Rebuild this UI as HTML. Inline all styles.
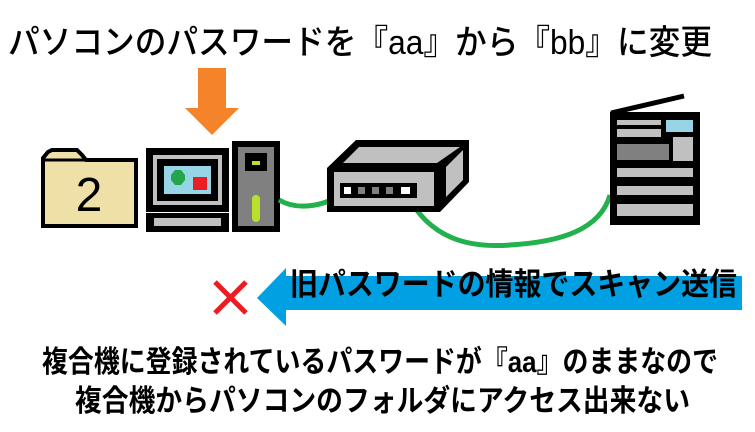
<!DOCTYPE html>
<html><head><meta charset="utf-8"><style>
html,body{margin:0;padding:0;background:#fff;}
svg{display:block}
text{font-family:"Liberation Sans","Noto Sans CJK JP",sans-serif;fill:#000}
</style></head><body>
<svg width="755" height="432" viewBox="0 0 755 432" xmlns="http://www.w3.org/2000/svg">
<rect width="755" height="432" fill="#fff"/>
<text x="8" y="54" font-size="34" textLength="704" lengthAdjust="spacingAndGlyphs" font-weight="500">パソコンのパスワードを『aa』から『bb』に変更</text>
<polygon points="198,68 226,68 226,108 239,108 212,135 185,108 198,108" fill="#f5832a"/>
<path d="M43,158 L48,152 L52,150 L77,150 L82,155 L86,160 L136,160 L136,226 L43,226 Z" fill="#efe0a8" stroke="#000" stroke-width="4" stroke-linejoin="miter"/>
<line x1="43" y1="160" x2="86" y2="160" stroke="#000" stroke-width="3"/>
<text x="89" y="211" font-size="48" text-anchor="middle" font-weight="500">2</text>
<rect x="146" y="148" width="83" height="64" fill="#000"/>
<rect x="153" y="155" width="69" height="50" fill="#c0c0c0"/>
<rect x="157" y="159" width="61" height="42" fill="#000"/>
<rect x="164" y="166" width="47" height="28" fill="#96d4e6"/>
<polygon points="175,170 181,170 185,175 185,180 181,185 175,185 171,180 171,175" fill="#24a54b"/>
<rect x="193" y="177" width="14" height="13" fill="#ec1c24"/>
<rect x="146" y="213" width="83" height="19" fill="#000"/>
<rect x="154" y="218" width="67" height="8" fill="#c0c0c0"/>
<rect x="232" y="141" width="48" height="91" fill="#000"/>
<rect x="238" y="147" width="36" height="79" fill="#808080"/>
<rect x="245" y="153" width="22" height="18" fill="#000"/>
<rect x="252" y="161" width="8" height="4" fill="#b9e02a"/>
<rect x="252" y="195" width="8" height="27" rx="4" fill="#b9e02a"/>
<path d="M279,200 C300,212 330,205 346,190" fill="none" stroke="#23b14d" stroke-width="5"/>
<path d="M406,193 C430,240 470,248 510,245 C560,242 600,230 610,195" fill="none" stroke="#23b14d" stroke-width="5"/>
<polygon points="327,168 356,140 469,140 469,182 440,212 327,212" fill="#000"/>
<polygon points="343,163 359,147 460,147 437,163" fill="#c0c0c0"/>
<polygon points="446,167 463,150 463,180 446,197" fill="#c0c0c0"/>
<rect x="334" y="172" width="100" height="34" fill="#c0c0c0"/>
<rect x="340" y="183" width="77" height="15" fill="#000"/>
<rect x="344" y="187" width="7" height="7" fill="#fff"/>
<rect x="358" y="187" width="7" height="7" fill="#808080"/>
<rect x="372" y="187" width="7" height="7" fill="#808080"/>
<rect x="386" y="187" width="7" height="7" fill="#808080"/>
<rect x="401" y="187" width="9" height="7" fill="#fff"/>
<line x1="611" y1="113" x2="684" y2="96" stroke="#000" stroke-width="5"/>
<rect x="610" y="112" width="90" height="113" fill="#000"/>
<rect x="617" y="120" width="44" height="5" fill="#c0c0c0"/>
<rect x="666" y="120" width="27" height="12" fill="#96d4e6"/>
<rect x="617" y="129" width="44" height="8" fill="#c0c0c0"/>
<rect x="673" y="137" width="20" height="24" fill="#c0c0c0"/>
<rect x="617" y="144" width="52" height="16" fill="#808080"/>
<rect x="617" y="168" width="76" height="9" fill="#c0c0c0"/>
<rect x="617" y="186" width="76" height="9" fill="#c0c0c0"/>
<rect x="617" y="204" width="76" height="12" fill="#c0c0c0"/>
<polygon points="257,298 286,268 286,276 742,276 742,310 286,310 286,326" fill="#00a0e3"/>
<text x="290" y="295" font-size="31" font-weight="bold" textLength="447" lengthAdjust="spacingAndGlyphs">旧パスワードの情報でスキャン送信</text>
<path d="M215,282 L246,313 M246,282 L215,313" stroke="#ec1c24" stroke-width="5"/>
<text x="42" y="372" font-size="30" font-weight="bold" textLength="676" lengthAdjust="spacingAndGlyphs">複合機に登録されているパスワードが『aa』のままなので</text>
<text x="75" y="411" font-size="30" font-weight="bold" textLength="615" lengthAdjust="spacingAndGlyphs">複合機からパソコンのフォルダにアクセス出来ない</text>
</svg>
</body></html>
